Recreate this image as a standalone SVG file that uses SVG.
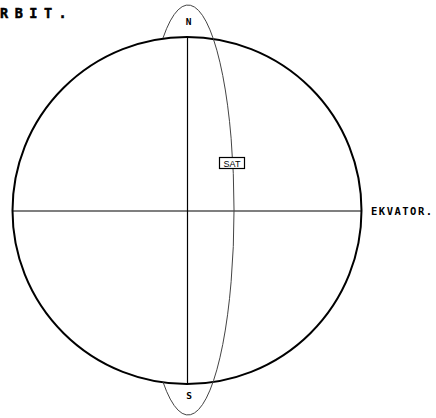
<svg xmlns="http://www.w3.org/2000/svg" width="436" height="418" viewBox="0 0 436 418">
<style>
.lbl{font-family:"DejaVu Sans Mono","Liberation Mono",monospace;font-weight:bold;fill:#000}
.axis{stroke:#000;stroke-width:1.2;fill:none}
</style>
<rect width="436" height="418" fill="#fff"/>
<text class="lbl" x="0" y="17.5" font-size="13.5" letter-spacing="6.5" stroke="#000" stroke-width="0.5">RBIT.</text>
<g id="globe">
<ellipse cx="187" cy="210.5" rx="174.5" ry="173.5" fill="none" stroke="#000" stroke-width="2"/>
</g>
<g id="connectors">
<line class="axis" x1="12" y1="211" x2="361" y2="211"/>
<line class="axis" x1="187.5" y1="37" x2="187.5" y2="384"/>
</g>
<g id="orbit">
<path d="M163 38 A46 205 0 1 1 163 382" fill="none" stroke="#444" stroke-width="1"/>
</g>
<g id="north"><text class="lbl" x="188.5" y="24.5" font-size="9.5" text-anchor="middle">N</text></g>
<g id="south"><text class="lbl" x="189" y="398.5" font-size="9.5" text-anchor="middle">S</text></g>
<g id="sat">
<rect x="219.5" y="157.5" width="25" height="11" fill="#fff" stroke="#000" stroke-width="1.2"/>
<text x="232" y="166.5" font-size="9" text-anchor="middle" font-family="Liberation Sans, Arial, sans-serif" fill="#000">SAT</text>
</g>
<g id="ekvator"><text class="lbl" x="371" y="215" font-size="10.5" letter-spacing="1.5">EKVATOR.</text></g>
</svg>
